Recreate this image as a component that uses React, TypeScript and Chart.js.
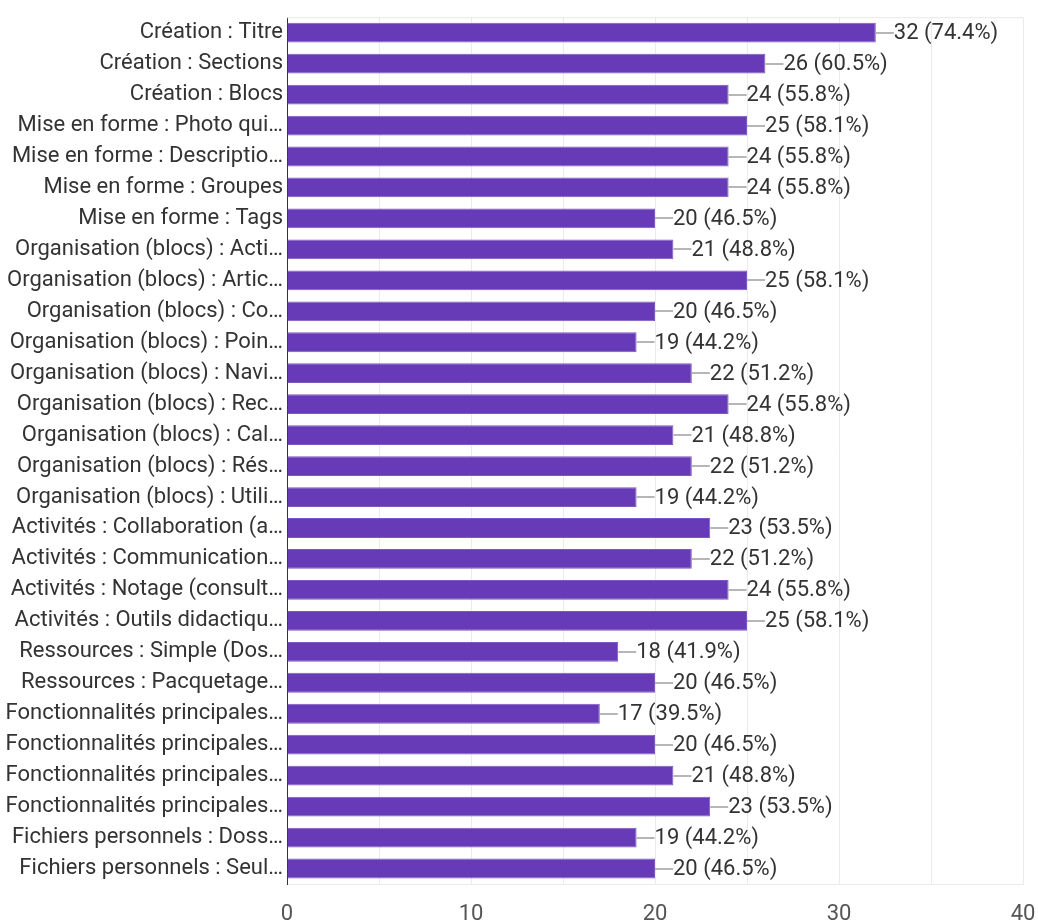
import React, { useEffect, useRef } from "react";
import { Chart, registerables } from "chart.js";

Chart.register(...registerables);

const categories: string[] = [
  "Création : Titre",
  "Création : Sections",
  "Création : Blocs",
  "Mise en forme : Photo qui…",
  "Mise en forme : Descriptio…",
  "Mise en forme : Groupes",
  "Mise en forme : Tags",
  "Organisation (blocs) : Acti…",
  "Organisation (blocs) : Artic…",
  "Organisation (blocs) : Co…",
  "Organisation (blocs) : Poin…",
  "Organisation (blocs) : Navi…",
  "Organisation (blocs) : Rec…",
  "Organisation (blocs) : Cal…",
  "Organisation (blocs) : Rés…",
  "Organisation (blocs) : Utili…",
  "Activités : Collaboration (a…",
  "Activités : Communication…",
  "Activités : Notage (consult…",
  "Activités : Outils didactiqu…",
  "Ressources : Simple (Dos…",
  "Ressources : Pacquetage…",
  "Fonctionnalités principales…",
  "Fonctionnalités principales…",
  "Fonctionnalités principales…",
  "Fonctionnalités principales…",
  "Fichiers personnels : Doss…",
  "Fichiers personnels : Seul…",
];

const counts: number[] = [
  32, 26, 24, 25, 24, 24, 20, 21, 25, 20, 19, 22, 24, 21, 22, 19, 23, 22, 24, 25,
  18, 20, 17, 20, 21, 23, 19, 20,
];

const percents: string[] = [
  "74.4%", "60.5%", "55.8%", "58.1%", "55.8%", "55.8%", "46.5%", "48.8%",
  "58.1%", "46.5%", "44.2%", "51.2%", "55.8%", "48.8%", "51.2%", "44.2%",
  "53.5%", "51.2%", "55.8%", "58.1%", "41.9%", "46.5%", "39.5%", "46.5%",
  "48.8%", "53.5%", "44.2%", "46.5%",
];

const xTickLabels: number[] = [0, 10, 20, 30, 40];

const FONT = "Roboto, 'Liberation Sans', Arial, sans-serif";

const valueLabels = {
  id: "valueLabels",
  afterDatasetsDraw(chart: any) {
    const ctx = chart.ctx;
    const meta = chart.getDatasetMeta(0);
    ctx.save();
    ctx.font = `22px ${FONT}`;
    ctx.textBaseline = "middle";
    ctx.textAlign = "left";
    meta.data.forEach((bar: any, i: number) => {
      const x = bar.x;
      const y = bar.y;
      ctx.strokeStyle = "#9e9e9e";
      ctx.lineWidth = 1.5;
      ctx.beginPath();
      ctx.moveTo(x, Math.round(y));
      ctx.lineTo(x + 18, Math.round(y));
      ctx.stroke();
      ctx.fillStyle = "#333333";
      ctx.fillText(`${counts[i]} (${percents[i]})`, x + 18, y + 1);
    });
    ctx.restore();
  },
};

const frame = {
  id: "frame",
  beforeDatasetsDraw(chart: any) {
    const { ctx, chartArea } = chart;
    ctx.save();
    ctx.strokeStyle = "#e8e8e8";
    ctx.lineWidth = 1;
    ctx.beginPath();
    ctx.moveTo(chartArea.left, chartArea.top + 0.5);
    ctx.lineTo(chartArea.right, chartArea.top + 0.5);
    ctx.stroke();
    ctx.restore();
  },
};

export default function App() {
  const ref = useRef<HTMLCanvasElement>(null);
  useEffect(() => {
    if (!ref.current) return;
    const chart = new Chart(ref.current, {
      type: "bar",
      data: {
        labels: categories,
        datasets: [
          {
            data: counts,
            backgroundColor: "#673ab7",
            borderColor: "#7e57c2",
            borderWidth: 1,
            barPercentage: 0.64,
            categoryPercentage: 1,
          },
        ],
      },
      options: {
        indexAxis: "y",
        responsive: false,
        animation: false,
        layout: { padding: { top: 14, right: 0, left: 0, bottom: 0 } },
        plugins: {
          legend: { display: false },
          tooltip: { enabled: false },
        },
        scales: {
          x: {
            min: 0,
            max: 40,
            ticks: {
              stepSize: 5,
              autoSkip: false,
              maxRotation: 0,
              padding: 17,
              color: "#555555",
              font: { family: FONT, size: 22 },
              callback: (v: any) =>
                xTickLabels.includes(Number(v)) ? String(v) : "",
            },
            grid: { color: "#ebebeb", drawTicks: false },
            border: { display: true, color: "#ebebeb" },
            afterFit: (s: any) => {
              s.height = 40;
              s.paddingRight = 15;
              s.paddingLeft = 0;
            },
          },
          y: {
            ticks: {
              autoSkip: false,
              padding: 4,
              color: "#333333",
              font: { family: FONT, size: 22 },
            },
            grid: { display: false, drawTicks: false },
            border: { display: true, color: "#333333", width: 1 },
            afterFit: (s: any) => {
              s.width = 287;
            },
          },
        },
      },
      plugins: [frame, valueLabels],
    });
    return () => chart.destroy();
  }, []);
  return (
    <div style={{ position: "absolute", left: 0, top: 0, width: 1038, height: 924, background: "#fff" }}>
      <canvas ref={ref} width={1038} height={924} />
    </div>
  );
}
